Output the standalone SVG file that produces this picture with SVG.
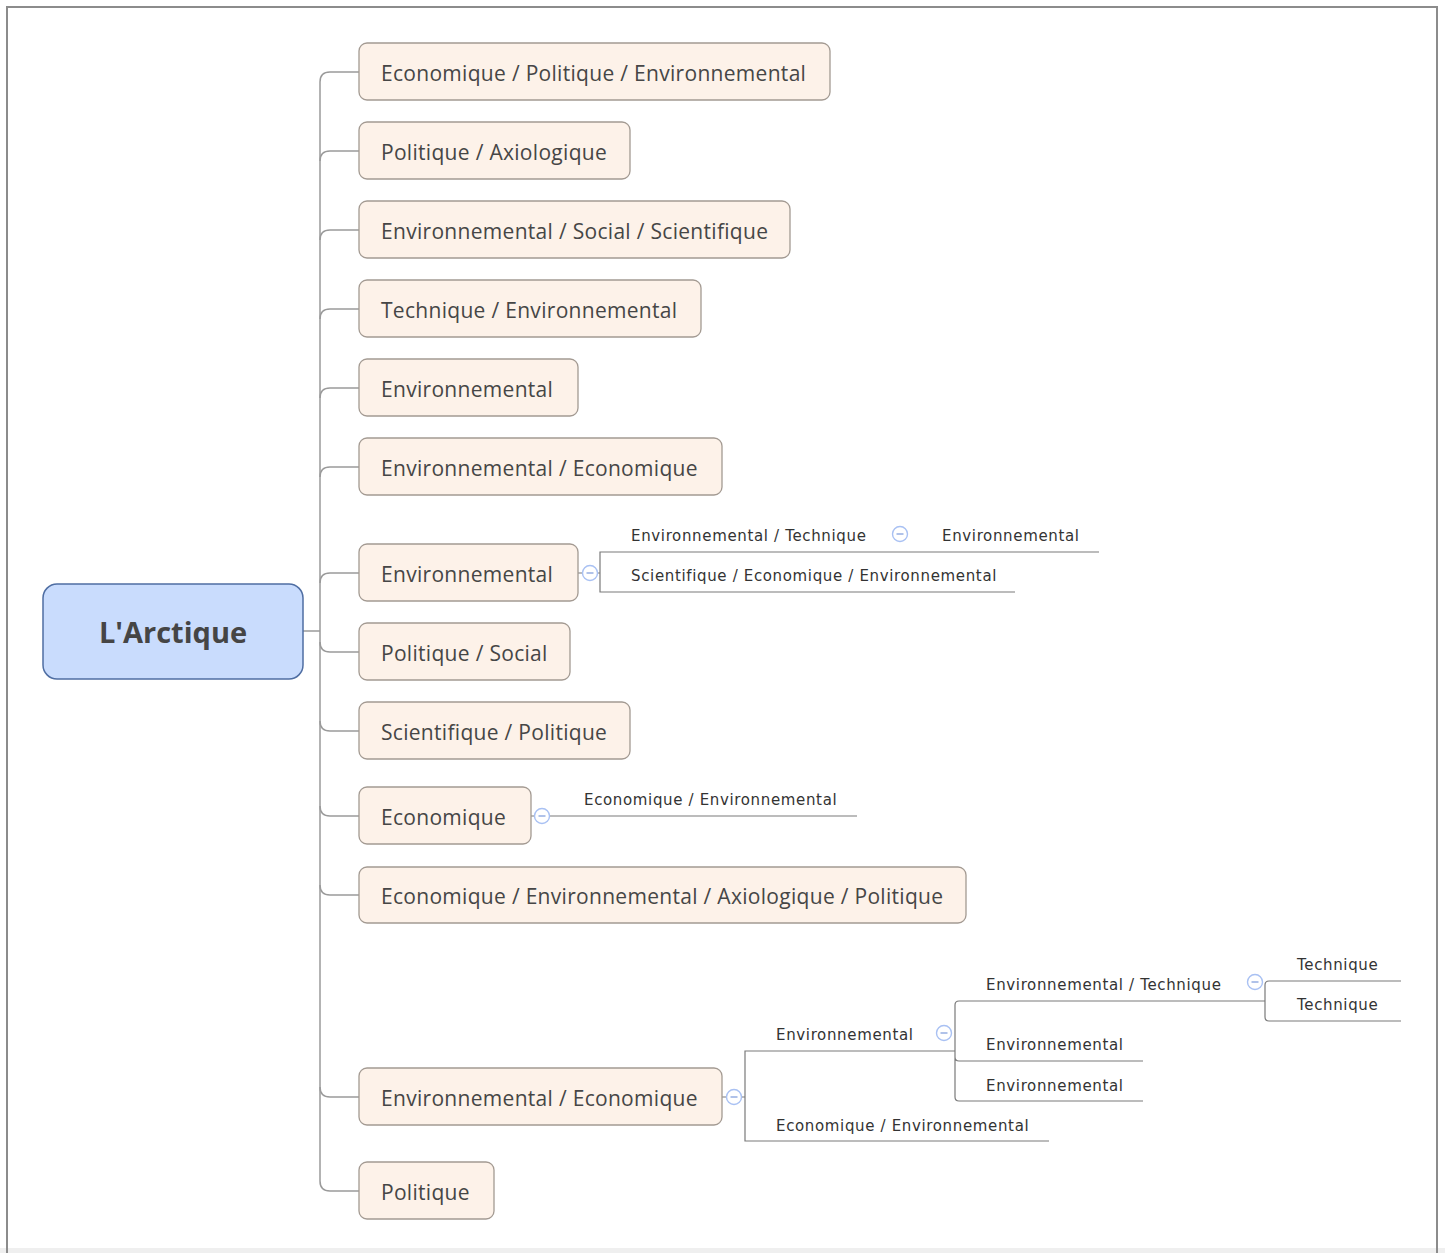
<svg xmlns="http://www.w3.org/2000/svg" width="1445" height="1253" viewBox="0 0 1445 1253">
<style>
.node rect{fill:#fdf2e9;stroke:#a39a92;stroke-width:1.3}
.node text{font-family:"Open Sans","Noto Sans",sans-serif;font-size:21px;letter-spacing:0.3px;fill:#464646}
.sub{font-family:"DejaVu Sans","Verdana",sans-serif;font-size:15px;letter-spacing:0.65px;fill:#333}
.trunk{fill:none;stroke:#9a9a9a;stroke-width:1.5}
.sl{fill:none;stroke:#7a7a7a;stroke-width:1.2}
</style>
<defs>
<g id="minus"><circle cx="0" cy="0" r="7.5" fill="#fff" stroke="#a9c1f3" stroke-width="1.4"/><line x1="-3.5" y1="0" x2="3.5" y2="0" stroke="#8ea8e0" stroke-width="1.4"/></g>
</defs>
<rect x="0" y="0" width="1445" height="1253" fill="#fff"/>
<rect x="0" y="1248" width="1445" height="5" fill="#efefef"/>
<path d="M7,1253 V7 H1437 V1253" fill="none" stroke="#8c8c8c" stroke-width="2"/>

<g id="connectors">
<path class="trunk" d="M303,631 H320"/>
<path class="trunk" d="M320,1181 V82 Q320,72 330,72 H359"/>
<path class="trunk" d="M320,161 Q320,151 330,151 H359"/>
<path class="trunk" d="M320,240 Q320,230 330,230 H359"/>
<path class="trunk" d="M320,319 Q320,309 330,309 H359"/>
<path class="trunk" d="M320,398 Q320,388 330,388 H359"/>
<path class="trunk" d="M320,477 Q320,467 330,467 H359"/>
<path class="trunk" d="M320,583 Q320,573 330,573 H359"/>
<path class="trunk" d="M320,642 Q320,652 330,652 H359"/>
<path class="trunk" d="M320,721 Q320,731 330,731 H359"/>
<path class="trunk" d="M320,806 Q320,816 330,816 H359"/>
<path class="trunk" d="M320,885 Q320,895 330,895 H359"/>
<path class="trunk" d="M320,1087 Q320,1097 330,1097 H359"/>
<path class="trunk" d="M320,1181 Q320,1191 330,1191 H359"/>

<path class="sl" d="M578,573 H583 M597,573 H600 M1099,552 H600 V592 H1015"/>
<path class="sl" d="M531,816 H535 M549,816 H857"/>
<path class="sl" d="M722,1097 H727 M741,1097 H745 M955,1051 H745 V1141 H1049"/>
<path class="sl" d="M1265,1001 H959 Q955,1001 955,1005 V1097 Q955,1101 959,1101 H1143 M955,1057 Q955,1061 959,1061 H1143"/>
<path class="sl" d="M1401,981 H1269 Q1265,981 1265,985 V1017 Q1265,1021 1269,1021 H1401"/>
</g>

<g id="root">
<rect x="43" y="584" width="260" height="95" rx="14" fill="#c9dcfd" stroke="#4f6ea3" stroke-width="1.5"/>
<text x="173" y="643" text-anchor="middle" font-family="'Open Sans','Noto Sans',sans-serif" font-size="29" font-weight="bold" fill="#454545">L'Arctique</text>
</g>

<g id="n1" class="node"><rect x="359" y="43" width="471" height="57" rx="8"/><text x="381" y="81">Economique / Politique / Environnemental</text></g>
<g id="n2" class="node"><rect x="359" y="122" width="271" height="57" rx="8"/><text x="381" y="160">Politique / Axiologique</text></g>
<g id="n3" class="node"><rect x="359" y="201" width="431" height="57" rx="8"/><text x="381" y="239">Environnemental / Social / Scientifique</text></g>
<g id="n4" class="node"><rect x="359" y="280" width="342" height="57" rx="8"/><text x="381" y="318">Technique / Environnemental</text></g>
<g id="n5" class="node"><rect x="359" y="359" width="219" height="57" rx="8"/><text x="381" y="397">Environnemental</text></g>
<g id="n6" class="node"><rect x="359" y="438" width="363" height="57" rx="8"/><text x="381" y="476">Environnemental / Economique</text></g>
<g id="n7" class="node"><rect x="359" y="544" width="219" height="57" rx="8"/><text x="381" y="582">Environnemental</text></g>
<g id="n8" class="node"><rect x="359" y="623" width="211" height="57" rx="8"/><text x="381" y="661">Politique / Social</text></g>
<g id="n9" class="node"><rect x="359" y="702" width="271" height="57" rx="8"/><text x="381" y="740">Scientifique / Politique</text></g>
<g id="n10" class="node"><rect x="359" y="787" width="172" height="57" rx="8"/><text x="381" y="825">Economique</text></g>
<g id="n11" class="node"><rect x="359" y="867" width="607" height="56" rx="8"/><text x="381" y="904">Economique / Environnemental / Axiologique / Politique</text></g>
<g id="n12" class="node"><rect x="359" y="1068" width="363" height="57" rx="8"/><text x="381" y="1106">Environnemental / Economique</text></g>
<g id="n13" class="node"><rect x="359" y="1162" width="135" height="57" rx="8"/><text x="381" y="1200">Politique</text></g>

<g id="s7a"><text class="sub" x="631" y="541">Environnemental / Technique</text></g>
<g id="s7a1"><text class="sub" x="942" y="541">Environnemental</text></g>
<g id="s7b"><text class="sub" x="631" y="581">Scientifique / Economique / Environnemental</text></g>
<g id="s10a"><text class="sub" x="584" y="805">Economique / Environnemental</text></g>
<g id="s12a"><text class="sub" x="776" y="1040">Environnemental</text></g>
<g id="s12a1"><text class="sub" x="986" y="990">Environnemental / Technique</text></g>
<g id="s12a1a"><text class="sub" x="1297" y="970">Technique</text></g>
<g id="s12a1b"><text class="sub" x="1297" y="1010">Technique</text></g>
<g id="s12a2"><text class="sub" x="986" y="1050">Environnemental</text></g>
<g id="s12a3"><text class="sub" x="986" y="1091">Environnemental</text></g>
<g id="s12b"><text class="sub" x="776" y="1131">Economique / Environnemental</text></g>

<g id="icons">
<use href="#minus" x="590" y="573"/>
<use href="#minus" x="900" y="534"/>
<use href="#minus" x="542" y="816"/>
<use href="#minus" x="734" y="1097"/>
<use href="#minus" x="944" y="1033"/>
<use href="#minus" x="1255" y="982"/>
</g>
</svg>
